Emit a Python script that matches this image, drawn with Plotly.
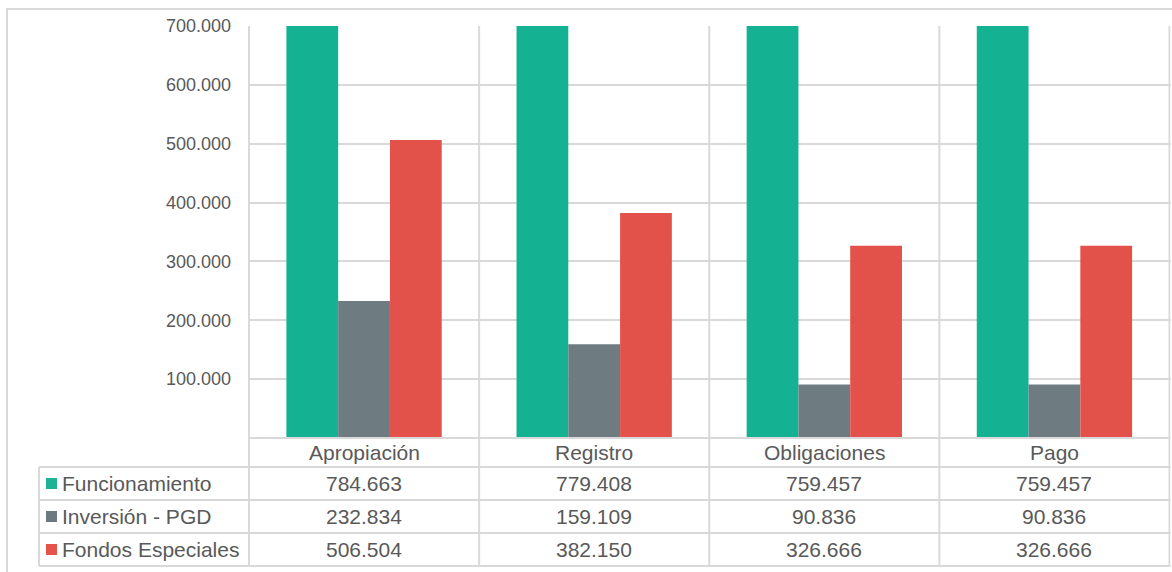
import plotly.graph_objects as go

categories = ["Apropiación", "Registro", "Obligaciones", "Pago"]
series_names = ["Funcionamiento", "Inversión - PGD", "Fondos Especiales"]
funcionamiento = [784663, 779408, 759457, 759457]
inversion = [232834, 159109, 90836, 90836]
fondos = [506504, 382150, 326666, 326666]
y_tickvals = [100000, 200000, 300000, 400000, 500000, 600000, 700000]

series_values = [funcionamiento, inversion, fondos]
bar_colors = ["#14B193", "#6E7C82", "#E3524A"]
legend_colors = ["#1DB394", "#6B7A80", "#E4544A"]

W, H = 1172, 572
TXT = "#595959"
GRID = "#D9D9D9"
FONT = "Liberation Sans, Arial, sans-serif"


def py(y):
    return 1 - y / H


def px(x):
    return x / W


fig = go.Figure()
for name, vals, col in zip(series_names, series_values, bar_colors):
    fig.add_trace(go.Bar(x=categories, y=vals, name=name, marker=dict(color=col, line=dict(width=0)),
                         showlegend=False, hoverinfo="x+y+name"))

plot_left, plot_right, plot_top, plot_bottom = 248, 1170.5, 26, 438
row_lines = [467, 500, 533, 566]
table_left = 39

shapes = []
# outer frame
shapes.append(dict(type="rect", xref="paper", yref="paper", x0=px(7), x1=px(1180), y0=py(9), y1=py(580),
                   line=dict(color=GRID, width=2), layer="below"))
# vertical category boundaries (through plot + table)
n = len(categories)
for i in range(n + 1):
    shapes.append(dict(type="line", xref="x", yref="paper", x0=i - 0.5, x1=i - 0.5,
                       y0=py(plot_top), y1=py(row_lines[-1]), line=dict(color=GRID, width=2), layer="below"))
# table left line
shapes.append(dict(type="line", xref="paper", yref="paper", x0=px(table_left), x1=px(table_left),
                   y0=py(row_lines[0]), y1=py(row_lines[-1]), line=dict(color=GRID, width=2)))
# horizontal table lines
shapes.append(dict(type="line", xref="paper", yref="paper", x0=px(plot_left), x1=px(plot_right),
                   y0=py(plot_bottom), y1=py(plot_bottom), line=dict(color=GRID, width=2)))
for yy in row_lines:
    shapes.append(dict(type="line", xref="paper", yref="paper", x0=px(table_left), x1=px(plot_right),
                       y0=py(yy), y1=py(yy), line=dict(color=GRID, width=2)))

annotations = []
for i, c in enumerate(categories):
    annotations.append(dict(x=c, xref="x", y=py((plot_bottom + row_lines[0]) / 2), yref="paper",
                            text=c, showarrow=False, font=dict(size=21, color=TXT, family=FONT),
                            xanchor="center", yanchor="middle"))

for r, (name, vals, lc) in enumerate(zip(series_names, series_values, legend_colors)):
    y0, y1 = row_lines[r], row_lines[r + 1]
    yc = (y0 + y1) / 2
    shapes.append(dict(type="rect", xref="paper", yref="paper", x0=px(46), x1=px(57),
                       y0=py(yc - 5.5), y1=py(yc + 5.5), fillcolor=lc, line=dict(width=0)))
    annotations.append(dict(x=px(60), xref="paper", y=py(yc), yref="paper", text=name, showarrow=False,
                            font=dict(size=21, color=TXT, family=FONT), xanchor="left", yanchor="middle"))
    for i, c in enumerate(categories):
        annotations.append(dict(x=c, xref="x", y=py(yc), yref="paper",
                                text=f"{vals[i]:,}".replace(",", "."), showarrow=False,
                                font=dict(size=21, color=TXT, family=FONT), xanchor="center", yanchor="middle"))

fig.update_layout(
    width=W, height=H, margin=dict(l=0, r=0, t=0, b=0, pad=0),
    paper_bgcolor="white", plot_bgcolor="white",
    barmode="group", bargap=0.325, bargroupgap=0,
    separators=",.",
    font=dict(family=FONT, color=TXT),
    xaxis=dict(domain=[px(plot_left), px(plot_right)], showticklabels=False, showgrid=False,
               zeroline=False, showline=False, ticks="", fixedrange=True, automargin=False),
    yaxis=dict(domain=[py(plot_bottom), py(plot_top)], range=[0, 700000], tickvals=y_tickvals,
               tickformat=",d", showgrid=True, gridcolor=GRID, gridwidth=2, zeroline=False,
               showline=False, ticks="", ticklabelstandoff=16, automargin=False,
               tickfont=dict(size=18, color=TXT, family=FONT), fixedrange=True),
    shapes=shapes, annotations=annotations,
)

fig.write_html("out.html")
